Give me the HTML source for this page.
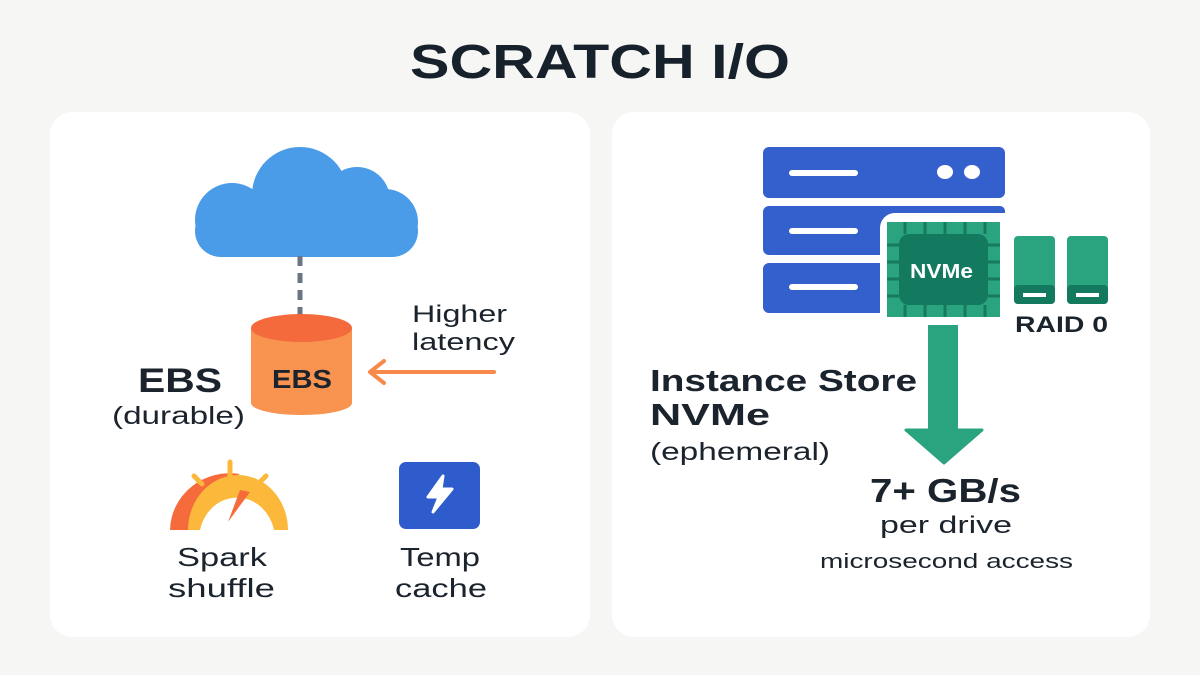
<!DOCTYPE html>
<html><head><meta charset="utf-8"><style>
html,body{margin:0;padding:0;background:#f6f6f4;}
svg{display:block;font-family:"Liberation Sans",sans-serif;}
</style></head><body>
<svg width="1200" height="675" viewBox="0 0 1200 675" xmlns="http://www.w3.org/2000/svg">
<rect width="1200" height="675" fill="#f6f6f4"/>
<text x="410" y="78" font-size="48" font-weight="bold" fill="#17212b" textLength="380" lengthAdjust="spacingAndGlyphs">SCRATCH I/O</text>
<rect x="50" y="112" width="540" height="525" rx="22" fill="#ffffff"/>
<rect x="612" y="112" width="538" height="525" rx="22" fill="#ffffff"/>
<!-- cloud -->
<g fill="#4a9be8">
<circle cx="300" cy="195" r="48"/>
<circle cx="357" cy="200" r="33"/>
<circle cx="232" cy="220" r="37"/>
<circle cx="385" cy="222" r="33"/>
<rect x="195" y="205" width="223" height="52" rx="26"/>
</g>
<line x1="300" y1="256" x2="300" y2="315" stroke="#6b7685" stroke-width="5" stroke-dasharray="10,7"/>
<!-- cylinder -->
<rect x="251" y="328" width="101" height="75" fill="#f89350"/>
<ellipse cx="301.5" cy="403" rx="50.5" ry="12" fill="#f89350"/>
<ellipse cx="301.5" cy="328" rx="50.5" ry="14" fill="#f46a3c"/>
<text x="272" y="388" font-size="26" font-weight="bold" fill="#1b232d" textLength="60" lengthAdjust="spacingAndGlyphs">EBS</text>
<line x1="372" y1="372" x2="494" y2="372" stroke="#f7894a" stroke-width="4" stroke-linecap="round"/>
<polyline points="384,361 370,372 384,383" fill="none" stroke="#f7894a" stroke-width="4" stroke-linecap="round" stroke-linejoin="round"/>
<text x="412" y="322" font-size="24" fill="#1b232d" textLength="95" lengthAdjust="spacingAndGlyphs">Higher</text>
<text x="412" y="350" font-size="24" fill="#1b232d" textLength="103" lengthAdjust="spacingAndGlyphs">latency</text>
<text x="138" y="392" font-size="34" font-weight="bold" fill="#1b232d" textLength="84" lengthAdjust="spacingAndGlyphs">EBS</text>
<text x="112" y="424" font-size="25" fill="#1b232d" textLength="133" lengthAdjust="spacingAndGlyphs">(durable)</text>
<!-- gauge -->
<path d="M170,530 A60,58 0 0 1 240,474 L232,478 A50,48 0 0 0 190,530 Z" fill="#f56b3c"/>
<path d="M188,530 A50,55 0 0 1 288,530 L274,530 A38,42 0 0 0 200,530 Z" fill="#fbb83a"/>
<path d="M228,522 L240,490 L250,492 Z" fill="#f56b3c"/>
<line x1="230" y1="462" x2="230" y2="477" stroke="#fbb83a" stroke-width="5" stroke-linecap="round"/>
<line x1="194" y1="476" x2="202" y2="484" stroke="#fbb83a" stroke-width="5" stroke-linecap="round"/>
<line x1="266" y1="476" x2="258" y2="484" stroke="#fbb83a" stroke-width="5" stroke-linecap="round"/>
<text x="177" y="566" font-size="26" fill="#1b232d" textLength="90" lengthAdjust="spacingAndGlyphs">Spark</text>
<text x="168" y="597" font-size="26" fill="#1b232d" textLength="107" lengthAdjust="spacingAndGlyphs">shuffle</text>
<rect x="399" y="462" width="81" height="67" rx="7" fill="#2f5ccc"/>
<path d="M443,476 L428,497 L439,497 L433,512 L452,489 L441,489 Z" fill="#fff" stroke="#fff" stroke-width="3" stroke-linejoin="round"/>
<text x="400" y="566" font-size="26" fill="#1b232d" textLength="80" lengthAdjust="spacingAndGlyphs">Temp</text>
<text x="395" y="597" font-size="26" fill="#1b232d" textLength="92" lengthAdjust="spacingAndGlyphs">cache</text>
<!-- server -->
<g fill="#3360cc">
<rect x="763" y="147" width="242" height="51" rx="6"/>
<path d="M769,206 H1000 a5,5 0 0 1 5,5 V213 H895 a15,15 0 0 0 -15,15 V255 H769 a6,6 0 0 1 -6,-6 V212 a6,6 0 0 1 6,-6 Z"/>
<path d="M769,263 H880 V313 H769 a6,6 0 0 1 -6,-6 V269 a6,6 0 0 1 6,-6 Z"/>
</g>
<g fill="#fff">
<rect x="789" y="170" width="69" height="6" rx="3"/>
<rect x="789" y="228" width="69" height="6" rx="3"/>
<rect x="789" y="284" width="69" height="6" rx="3"/>
<ellipse cx="945" cy="172" rx="8" ry="7"/>
<ellipse cx="972" cy="172" rx="8" ry="7"/>
</g>
<!-- chip -->
<rect x="887" y="222" width="113" height="95" fill="#2aa47e"/>
<g stroke="#177a5f" stroke-width="3">
<line x1="905" y1="222" x2="905" y2="234"/><line x1="925" y1="222" x2="925" y2="234"/><line x1="945" y1="222" x2="945" y2="234"/><line x1="965" y1="222" x2="965" y2="234"/><line x1="985" y1="222" x2="985" y2="234"/>
<line x1="905" y1="305" x2="905" y2="317"/><line x1="925" y1="305" x2="925" y2="317"/><line x1="945" y1="305" x2="945" y2="317"/><line x1="965" y1="305" x2="965" y2="317"/><line x1="985" y1="305" x2="985" y2="317"/>
<line x1="887" y1="245" x2="899" y2="245"/><line x1="887" y1="262" x2="899" y2="262"/><line x1="887" y1="279" x2="899" y2="279"/><line x1="887" y1="296" x2="899" y2="296"/>
<line x1="988" y1="245" x2="1000" y2="245"/><line x1="988" y1="262" x2="1000" y2="262"/><line x1="988" y1="279" x2="1000" y2="279"/><line x1="988" y1="296" x2="1000" y2="296"/>
</g>
<rect x="899" y="234" width="89" height="71" rx="10" fill="#137a60"/>
<text x="910" y="278" font-size="20" font-weight="bold" fill="#fff" textLength="63" lengthAdjust="spacingAndGlyphs">NVMe</text>
<!-- drives -->
<rect x="1014" y="236" width="41" height="68" rx="4" fill="#2aa47e"/>
<rect x="1014" y="285" width="41" height="19" rx="4" fill="#137a60"/>
<rect x="1023" y="293" width="23" height="4" fill="#fff"/>
<rect x="1067" y="236" width="41" height="68" rx="4" fill="#2aa47e"/>
<rect x="1067" y="285" width="41" height="19" rx="4" fill="#137a60"/>
<rect x="1076" y="293" width="23" height="4" fill="#fff"/>
<text x="1015" y="332" font-size="22" font-weight="bold" fill="#1b232d" textLength="93" lengthAdjust="spacingAndGlyphs">RAID 0</text>
<!-- arrow -->
<rect x="928" y="325" width="30" height="107" fill="#2aa47e"/>
<path d="M906,430 L982,430 L944,463 Z" fill="#2aa47e" stroke="#2aa47e" stroke-width="3" stroke-linejoin="round"/>
<text x="650" y="391" font-size="31" font-weight="bold" fill="#1b232d" textLength="267" lengthAdjust="spacingAndGlyphs">Instance Store</text>
<text x="650" y="425" font-size="31" font-weight="bold" fill="#1b232d" textLength="120" lengthAdjust="spacingAndGlyphs">NVMe</text>
<text x="650" y="460" font-size="25" fill="#1b232d" textLength="180" lengthAdjust="spacingAndGlyphs">(ephemeral)</text>
<text x="870" y="502" font-size="33" font-weight="bold" fill="#1b232d" textLength="151" lengthAdjust="spacingAndGlyphs">7+ GB/s</text>
<text x="880" y="533" font-size="24" fill="#1b232d" textLength="132" lengthAdjust="spacingAndGlyphs">per drive</text>
<text x="820" y="568" font-size="20" fill="#1b232d" textLength="253" lengthAdjust="spacingAndGlyphs">microsecond access</text>
</svg>
</body></html>
